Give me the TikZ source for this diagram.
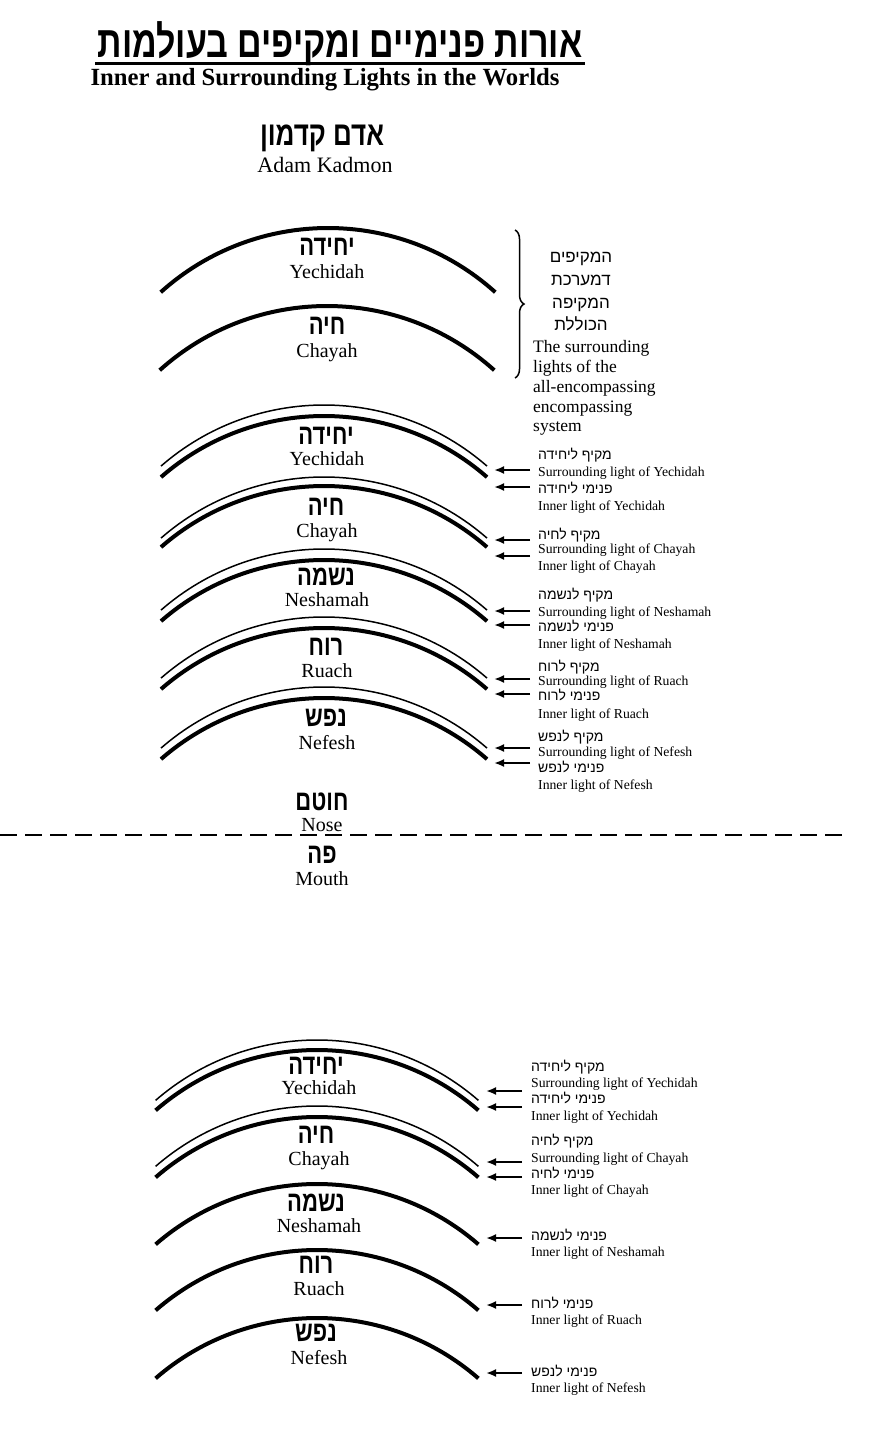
\documentclass[tikz,border=0pt]{standalone}
\usepackage{fontspec}
\usepackage{graphicx}
\setmainfont{Liberation Serif}
\newfontfamily\hebfont[Script=Hebrew]{Liberation Sans}
\TeXXeTstate=1
\usetikzlibrary{arrows.meta,decorations.pathreplacing}
\newcommand\hb[1]{{\hebfont\beginR #1\endR}}
\newcommand\hbt[1]{\scalebox{1}[1.3]{\hb{#1}}}
% style, center x, apex y (page), radius, half angle
\newcommand\lightarc[5]{\draw[#1] (#2,-#3-#4) ++(90+#5:#4) arc[start angle=90+#5, end angle=90-#5, radius=#4];}
\begin{document}
\begin{tikzpicture}[x=1pt,y=1pt,
  bigheb/.style={font=\hebfont\bfseries\fontsize{22}{24}\selectfont, inner sep=0, anchor=base},
  bigeng/.style={font=\fontsize{20}{22}\selectfont, inner sep=0, anchor=base},
  smheb/.style={font=\hebfont\fontsize{14}{15}\selectfont, inner sep=0, anchor=base west},
  smeng/.style={font=\fontsize{13.7}{15}\selectfont, inner sep=0, anchor=base west},
  bracheb/.style={font=\hebfont\fontsize{17}{19}\selectfont, inner sep=0, anchor=base},
  braceng/.style={font=\fontsize{17.5}{19}\selectfont, inner sep=0, anchor=base west},
  thinarc/.style={line width=1.5},
  thickarc/.style={line width=4},
  arr/.style={line width=2.2,-{Latex[length=10pt,width=8pt]}},
]
\fill[white] (0,0) rectangle (872,-1448);
\useasboundingbox (0,0) rectangle (872,-1448);

% ---- title
\node[font=\hebfont\bfseries\fontsize{34}{36}\selectfont, inner sep=0, anchor=base] (title) at (340,-57) {\scalebox{1}[1.3]{\hb{אורות פנימיים ומקיפים בעולמות}}};
\coordinate (ulL) at (95,-63);
\coordinate (ulR) at (585,-63);
\draw[line width=3] (ulL) -- (ulR);
\node[font=\bfseries\fontsize{24.7}{26}\selectfont, inner sep=0, anchor=base] (subtitle) at (325,-85) {Inner and Surrounding Lights in the Worlds};

\node[font=\hebfont\bfseries\fontsize{26}{28}\selectfont, inner sep=0, anchor=base] (akh) at (322,-145) {\hbt{אדם קדמון}};
\node[font=\fontsize{22}{24}\selectfont, inner sep=0, anchor=base] (ake) at (325,-172) {Adam Kadmon};

% ---- top section
\lightarc{thickarc}{328}{228}{250}{42}
\lightarc{thickarc}{327}{306}{250}{42}
\node[bigheb] (t1h) at (327,-255) {\hbt{יחידה}};
\node[bigeng] (t1e) at (327,-278) {Yechidah};
\node[bigheb] (t2h) at (327,-334) {\hbt{חיה}};
\node[bigeng] (t2e) at (327,-357) {Chayah};

\coordinate (brT) at (515,-230);
\coordinate (brB) at (515,-378);
\draw[line width=1.5, decorate, decoration={brace, amplitude=9pt}] (brT) -- (brB);
\node[bracheb] (bh1) at (581,-262) {\hb{המקיפים}};
\node[bracheb] (bh2) at (581,-285) {\hb{דמערכת}};
\node[bracheb] (bh3) at (581,-308) {\hb{המקיפה}};
\node[bracheb] (bh4) at (581,-330) {\hb{הכוללת}};
\node[braceng] (be1) at (533,-352) {The surrounding};
\node[braceng] (be2) at (533,-372) {lights of the};
\node[braceng] (be3) at (533,-392) {all-encompassing};
\node[braceng] (be4) at (533,-412) {encompassing};
\node[braceng] (be5) at (533,-431) {system};

% ---- middle section
\lightarc{thinarc}{324}{405}{248}{41.1}
\lightarc{thickarc}{324}{416}{248}{41.1}
\lightarc{thinarc}{324}{477}{248}{41.1}
\lightarc{thickarc}{324}{486}{248}{41.1}
\lightarc{thinarc}{324}{549}{248}{41.1}
\lightarc{thickarc}{324}{560}{248}{41.1}
\lightarc{thinarc}{324}{617}{248}{41.1}
\lightarc{thickarc}{324}{628}{248}{41.1}
\lightarc{thinarc}{324}{687}{248}{41.1}
\lightarc{thickarc}{324}{698}{248}{41.1}

\node[bigheb] (m1h) at (326,-444) {\hbt{יחידה}};
\node[bigeng] (m1e) at (327,-465) {Yechidah};
\node[bigheb] (m2h) at (326,-515) {\hbt{חיה}};
\node[bigeng] (m2e) at (327,-537) {Chayah};
\node[bigheb] (m3h) at (326,-585) {\hbt{נשמה}};
\node[bigeng] (m3e) at (327,-606) {Neshamah};
\node[bigheb] (m4h) at (326,-655) {\hbt{רוח}};
\node[bigeng] (m4e) at (327,-677) {Ruach};
\node[bigheb] (m5h) at (326,-726) {\hbt{נפש}};
\node[bigeng] (m5e) at (327,-749) {Nefesh};

% labels middle
\node[smheb] (ml1a) at (538,-459) {\hb{מקיף ליחידה}};
\node[smeng] (ml1b) at (538,-476) {Surrounding light of Yechidah};
\node[smheb] (ml1c) at (538,-493) {\hb{פנימי ליחידה}};
\node[smeng] (ml1d) at (538,-510) {Inner light of Yechidah};
\node[smheb] (ml2a) at (538,-539) {\hb{מקיף לחיה}};
\node[smeng] (ml2b) at (538,-553) {Surrounding light of Chayah};
\node[smeng] (ml2d) at (538,-570) {Inner light of Chayah};
\node[smheb] (ml3a) at (538,-599) {\hb{מקיף לנשמה}};
\node[smeng] (ml3b) at (538,-616) {Surrounding light of Neshamah};
\node[smheb] (ml3c) at (538,-631) {\hb{פנימי לנשמה}};
\node[smeng] (ml3d) at (538,-648) {Inner light of Neshamah};
\node[smheb] (ml4a) at (538,-671) {\hb{מקיף לרוח}};
\node[smeng] (ml4b) at (538,-685) {Surrounding light of Ruach};
\node[smheb] (ml4c) at (538,-700) {\hb{פנימי לרוח}};
\node[smeng] (ml4d) at (538,-718) {Inner light of Ruach};
\node[smheb] (ml5a) at (538,-741) {\hb{מקיף לנפש}};
\node[smeng] (ml5b) at (538,-756) {Surrounding light of Nefesh};
\node[smheb] (ml5c) at (538,-772) {\hb{פנימי לנפש}};
\node[smeng] (ml5d) at (538,-789) {Inner light of Nefesh};

\foreach \n/\y in {1a/470,1b/487,2a/540,2b/556,3a/611,3b/625,4a/679,4b/694,5a/748,5b/763}{
  \coordinate (ma\n s) at (530,-\y);
  \coordinate (ma\n e) at (494,-\y);
  \draw[arr] (ma\n s) -- (ma\n e);
}

% ---- nose / mouth
\node[bigheb] (noseh) at (322,-810) {\hbt{חוטם}};
\node[bigeng] (nosee) at (322,-831) {Nose};
\coordinate (dashL) at (0,-835);
\coordinate (dashR) at (846,-835);
\draw[line width=2.5, dash pattern=on 17pt off 8pt] (dashL) -- (dashR);
\node[bigheb] (mouthh) at (322,-863) {\hbt{פה}};
\node[bigeng] (mouthe) at (322,-885) {Mouth};

% ---- lower section
\lightarc{thinarc}{317}{1040}{246}{41}
\lightarc{thickarc}{317}{1050}{246}{41}
\lightarc{thinarc}{317}{1106}{246}{41}
\lightarc{thickarc}{317}{1117}{246}{41}
\lightarc{thickarc}{317}{1184}{246}{41}
\lightarc{thickarc}{317}{1250}{246}{41}
\lightarc{thickarc}{317}{1318}{246}{41}

\node[bigheb] (l1h) at (316,-1074) {\hbt{יחידה}};
\node[bigeng] (l1e) at (319,-1094) {Yechidah};
\node[bigheb] (l2h) at (316,-1143) {\hbt{חיה}};
\node[bigeng] (l2e) at (319,-1165) {Chayah};
\node[bigheb] (l3h) at (316,-1211) {\hbt{נשמה}};
\node[bigeng] (l3e) at (319,-1232) {Neshamah};
\node[bigheb] (l4h) at (316,-1273) {\hbt{רוח}};
\node[bigeng] (l4e) at (319,-1295) {Ruach};
\node[bigheb] (l5h) at (316,-1341) {\hbt{נפש}};
\node[bigeng] (l5e) at (319,-1364) {Nefesh};

\node[smheb] (ll1a) at (531,-1071) {\hb{מקיף ליחידה}};
\node[smeng] (ll1b) at (531,-1087) {Surrounding light of Yechidah};
\node[smheb] (ll1c) at (531,-1103) {\hb{פנימי ליחידה}};
\node[smeng] (ll1d) at (531,-1120) {Inner light of Yechidah};
\node[smheb] (ll2a) at (531,-1145) {\hb{מקיף לחיה}};
\node[smeng] (ll2b) at (531,-1162) {Surrounding light of Chayah};
\node[smheb] (ll2c) at (531,-1178) {\hb{פנימי לחיה}};
\node[smeng] (ll2d) at (531,-1194) {Inner light of Chayah};
\node[smheb] (ll3c) at (531,-1240) {\hb{פנימי לנשמה}};
\node[smeng] (ll3d) at (531,-1256) {Inner light of Neshamah};
\node[smheb] (ll4c) at (531,-1308) {\hb{פנימי לרוח}};
\node[smeng] (ll4d) at (531,-1324) {Inner light of Ruach};
\node[smheb] (ll5c) at (531,-1376) {\hb{פנימי לנפש}};
\node[smeng] (ll5d) at (531,-1392) {Inner light of Nefesh};

\foreach \n/\y in {1a/1091,1b/1107,2a/1162,2b/1177,3b/1238,4b/1305,5b/1373}{
  \coordinate (la\n s) at (522,-\y);
  \coordinate (la\n e) at (486,-\y);
  \draw[arr] (la\n s) -- (la\n e);
}
\end{tikzpicture}
\end{document}
